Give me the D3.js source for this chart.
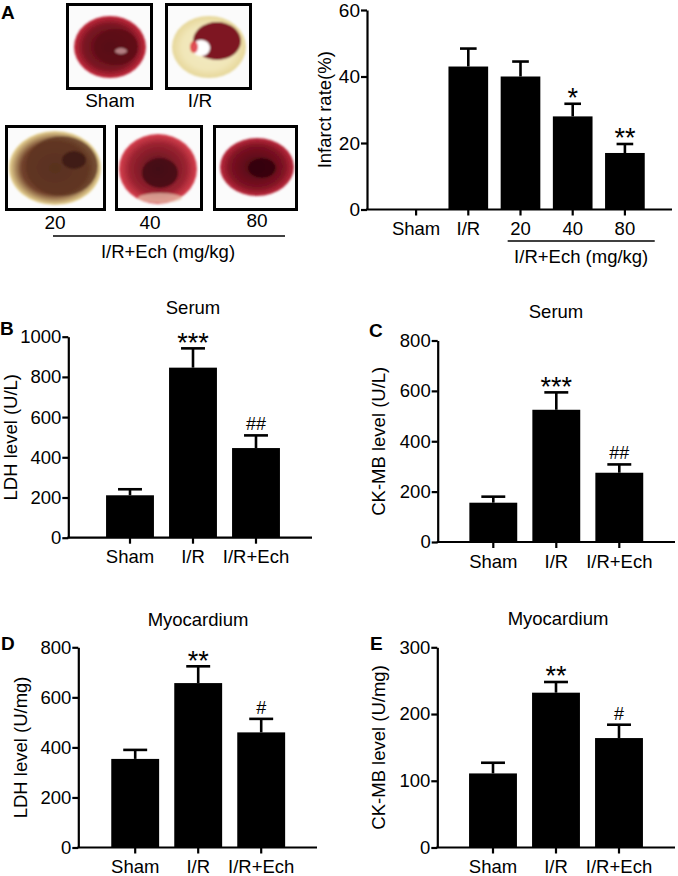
<!DOCTYPE html>
<html>
<head>
<meta charset="utf-8">
<script src="https://cdn.jsdelivr.net/npm/d3@7"></script>
<style>
	body { margin: 0; background: #fff; }
	svg text { font-family: 'Liberation Sans', Arial, sans-serif; fill: #000; }
</style>
</head>
<body>
<svg id="fig" width="678" height="876"></svg>
<script>
'use strict';

// panel A, infarct size
let infarctGroups = ['Sham', 'I/R', '20', '40', '80'];
let infarctMean = [0, 43, 40, 28, 17];
let infarctErr = [0, 5.4, 4.5, 3.8, 2.7];
let infarctSig = ['', '', '', '*', '**'];
let infarctTicks = [0, 20, 40, 60];

// panels B-E
let groups = ['Sham', 'I/R', 'I/R+Ech'];
let serumLdhMean = [211, 846, 446];
let serumLdhErr = [30, 96, 63];
let serumCkMean = [156, 525, 275];
let serumCkErr = [24, 69, 33];
let myoLdhMean = [354, 657, 460];
let myoLdhErr = [36, 67, 54];
let myoCkMean = [111, 232, 164];
let myoCkErr = [16, 16, 20];
let sigSerum = ['', '***', '##'];
let sigMyo = ['', '**', '#'];

// TTC photo captions
let photoLabels = ['Sham', 'I/R', '20', '40', '80'];

let svg = d3.select('#fig');
svg.append('rect').attr('width', 678).attr('height', 876).attr('fill', '#fff');

function BarPanel(options) {

	let defaults = {
		x0: 0,          // y axis position
		x1: 0,          // end of x axis line
		band: [0, 0],   // band range
		y: [0, 0],      // [bottom, top]
		max: 100,
		ticks: [],
		cats: [],
		mean: [],
		err: [],
		sig: [],
		yLabel: '',
		yLabelX: 0,
		title: '',
		titleX: 0,
		titleY: 0,
		letter: '',
		letterXY: [0, 0],
		fs: 18.5,
		tickFs: 18.5,
		starFs: 27,
		hashFs: 18,
		cap: 0.5
	};

	let opt = Object.assign(defaults, options);

	let g = svg.append('g');

	let x = d3.scaleBand()
		.domain(opt.cats)
		.range(opt.band)
		.paddingInner(0.24)
		.paddingOuter(0.12);

	let y = d3.scaleLinear()
		.domain([0, opt.max])
		.range(opt.y);

	let data = opt.cats.map((c, i) => ({c, m: opt.mean[i], e: opt.err[i], s: opt.sig[i]}));
	let mid = d => x(d.c) + x.bandwidth() / 2;

	// bars
	g.selectAll('rect.bar')
		.data(data.filter(d => d.m > 0))
		.enter().append('rect')
		.attr('class', 'bar')
		.attr('x', d => x(d.c))
		.attr('width', x.bandwidth())
		.attr('y', d => y(d.m))
		.attr('height', d => y(0) - y(d.m))
		.attr('fill', '#000');

	// error bars (upper only)
	let capW = x.bandwidth() * opt.cap;
	let eb = g.selectAll('g.err')
		.data(data.filter(d => d.e > 0))
		.enter().append('g')
		.attr('class', 'err')
		.attr('stroke', '#000')
		.attr('stroke-width', 2.6);

	eb.append('line')
		.attr('x1', mid)
		.attr('x2', mid)
		.attr('y1', d => y(d.m))
		.attr('y2', d => y(d.m + d.e));

	eb.append('line')
		.attr('x1', d => mid(d) - capW / 2)
		.attr('x2', d => mid(d) + capW / 2)
		.attr('y1', d => y(d.m + d.e))
		.attr('y2', d => y(d.m + d.e));

	// significance marks
	g.selectAll('text.sig')
		.data(data.filter(d => d.s))
		.enter().append('text')
		.attr('class', 'sig')
		.attr('text-anchor', 'middle')
		.attr('x', mid)
		.attr('y', d => d.s[0] === '*' ? y(d.m + d.e) + opt.starFs * 0.12 : y(d.m + d.e) - 5)
		.style('font-size', d => (d.s[0] === '*' ? opt.starFs : opt.hashFs) + 'px')
		.text(d => d.s);

	// y axis
	let yAxis = g.append('g')
		.attr('transform', `translate(${opt.x0},0)`)
		.call(d3.axisLeft(y)
			.tickValues(opt.ticks)
			.tickFormat(d3.format('d'))
			.tickSize(6).tickSizeOuter(0).tickPadding(1));

	yAxis.select('.domain').attr('stroke-width', 2.2);
	yAxis.selectAll('.tick line').attr('stroke-width', 2.2);
	yAxis.selectAll('.tick text')
		.style('font-size', opt.tickFs + 'px')
		.attr('fill', '#000');

	// x axis
	let xAxis = g.append('g')
		.attr('transform', `translate(0,${y(0)})`)
		.call(d3.axisBottom(x).tickSize(6).tickSizeOuter(0).tickPadding(6.5));

	xAxis.select('.domain').remove();
	xAxis.selectAll('.tick line').attr('stroke-width', 2.2);
	xAxis.selectAll('.tick text')
		.style('font-size', opt.fs + 'px')
		.attr('fill', '#000');

	g.append('line')
		.attr('x1', opt.x0 - 1)
		.attr('x2', opt.x1)
		.attr('y1', y(0))
		.attr('y2', y(0))
		.attr('stroke', '#000')
		.attr('stroke-width', 2.2);

	// y label
	g.append('text')
		.attr('transform', `translate(${opt.yLabelX},${(opt.y[0] + opt.y[1]) / 2}) rotate(-90)`)
		.attr('text-anchor', 'middle')
		.attr('dy', '0.35em')
		.style('font-size', opt.fs + 'px')
		.text(opt.yLabel);

	if (opt.title) {
		g.append('text')
			.attr('x', opt.titleX)
			.attr('y', opt.titleY)
			.attr('text-anchor', 'middle')
			.style('font-size', opt.fs + 'px')
			.text(opt.title);
	}

	if (opt.letter) {
		g.append('text')
			.attr('x', opt.letterXY[0])
			.attr('y', opt.letterXY[1])
			.style('font-size', '19px')
			.style('font-weight', 'bold')
			.text(opt.letter);
	}

	return {g, x, y};
}

// ---- panel A, right: infarct rate
let infarct = BarPanel({
	x0: 367, x1: 672,
	band: [390, 651],
	y: [209.5, 10],
	max: 60,
	ticks: infarctTicks,
	cats: infarctGroups,
	mean: infarctMean,
	err: infarctErr,
	sig: infarctSig,
	yLabel: 'Infarct rate(%)',
	yLabelX: 325,
	tickFs: 19,
	starFs: 27,
	cap: 0.42
});

// bracket under the dose groups
(function() {
	let x = infarct.x;
	let l = x('20') + 7;
	let r = x('80') + x.bandwidth() + 10;
	svg.append('line')
		.attr('x1', l).attr('x2', r)
		.attr('y1', 241).attr('y2', 241)
		.attr('stroke', '#000').attr('stroke-width', 1.6);
	svg.append('text')
		.attr('x', (l + r) / 2)
		.attr('y', 263)
		.attr('text-anchor', 'middle')
		.style('font-size', '18.5px')
		.text('I/R+Ech (mg/kg)');
}());

// ---- panel A, left: TTC stained slices (drawn, not photos)
let photoBoxes = [
	{x: 67.5, y: 4.5, w: 84, h: 84},
	{x: 166.5, y: 4.5, w: 84, h: 84},
	{x: 6.5, y: 126.5, w: 98, h: 83},
	{x: 116.5, y: 126.5, w: 85, h: 83},
	{x: 214.5, y: 126.5, w: 82, h: 83}
];

let slices = [
	{cx: 110, cy: 47, rx: 36, ry: 31, rim: '#c42a3c', body: '#7a1422', core: '#4e0a14'},
	{cx: 209, cy: 47, rx: 37, ry: 31, rim: '#e6d79a', body: '#f1e6b8', core: '#f3ebc4'},
	{cx: 55, cy: 168, rx: 46, ry: 37, rim: '#ead694', body: '#70402a', core: '#4a2418'},
	{cx: 158, cy: 169, rx: 39, ry: 35, rim: '#d8404e', body: '#9a2230', core: '#52101a'},
	{cx: 257, cy: 167, rx: 37, ry: 29, rim: '#bc2a3c', body: '#7c1222', core: '#480812'}
];

// darker / paler patches inside each slice
let patches = [
	{cx: 116, cy: 47, rx: 22, ry: 18, fill: '#5a0c16', op: 0.8},
	{cx: 121, cy: 51, rx: 6, ry: 3, fill: '#d8b0b0', op: 0.7},
	{cx: 217, cy: 41, rx: 24, ry: 19, fill: '#7e1424', op: 1},
	{cx: 201, cy: 48, rx: 9, ry: 8, fill: '#ffffff', op: 1},
	{cx: 194, cy: 47, rx: 4, ry: 6, fill: '#d8242c', op: 0.8},
	{cx: 62, cy: 166, rx: 36, ry: 30, fill: '#5e3422', op: 0.75},
	{cx: 74, cy: 160, rx: 12, ry: 9, fill: '#3a1810', op: 0.8},
	{cx: 160, cy: 173, rx: 18, ry: 15, fill: '#3f0710', op: 0.8},
	{cx: 160, cy: 198, rx: 22, ry: 5, fill: '#e8c8b0', op: 0.7},
	{cx: 262, cy: 168, rx: 14, ry: 10, fill: '#2e050b', op: 0.8}
];

let defs = svg.append('defs');
slices.forEach((s, i) => {
	let grad = defs.append('radialGradient').attr('id', `slice${i}`);
	grad.append('stop').attr('offset', '0%').attr('stop-color', s.core);
	grad.append('stop').attr('offset', '72%').attr('stop-color', s.body);
	grad.append('stop').attr('offset', '100%').attr('stop-color', s.rim);
});
defs.append('filter').attr('id', 'soft')
	.append('feGaussianBlur').attr('stdDeviation', 1.3);

let photo = svg.append('g');
photo.selectAll('rect.box')
	.data(photoBoxes)
	.enter().append('rect')
	.attr('class', 'box')
	.attr('x', d => d.x).attr('y', d => d.y)
	.attr('width', d => d.w).attr('height', d => d.h)
	.attr('fill', '#fbfbfb')
	.attr('stroke', '#000')
	.attr('stroke-width', 3);

let tissue = photo.append('g').attr('filter', 'url(#soft)');
tissue.selectAll('ellipse.slice')
	.data(slices)
	.enter().append('ellipse')
	.attr('class', 'slice')
	.attr('cx', d => d.cx).attr('cy', d => d.cy)
	.attr('rx', d => d.rx).attr('ry', d => d.ry)
	.attr('fill', (d, i) => `url(#slice${i})`);

tissue.selectAll('ellipse.patch')
	.data(patches)
	.enter().append('ellipse')
	.attr('class', 'patch')
	.attr('cx', d => d.cx).attr('cy', d => d.cy)
	.attr('rx', d => d.rx).attr('ry', d => d.ry)
	.attr('fill', d => d.fill)
	.attr('opacity', d => d.op);

let photoText = [
	{t: photoLabels[0], x: 110, y: 107},
	{t: photoLabels[1], x: 200, y: 107},
	{t: photoLabels[2], x: 55, y: 229},
	{t: photoLabels[3], x: 150, y: 229},
	{t: photoLabels[4], x: 257, y: 227}
];
photo.selectAll('text.cap')
	.data(photoText)
	.enter().append('text')
	.attr('class', 'cap')
	.attr('x', d => d.x).attr('y', d => d.y)
	.attr('text-anchor', 'middle')
	.style('font-size', '19px')
	.text(d => d.t);

photo.append('line')
	.attr('x1', 53).attr('x2', 285)
	.attr('y1', 236).attr('y2', 236)
	.attr('stroke', '#000').attr('stroke-width', 1.6);
photo.append('text')
	.attr('x', 168).attr('y', 258)
	.attr('text-anchor', 'middle')
	.style('font-size', '18.5px')
	.text('I/R+Ech (mg/kg)');

svg.append('text')
	.attr('x', 1).attr('y', 19)
	.style('font-size', '19px')
	.style('font-weight', 'bold')
	.text('A');

// ---- B: serum LDH
BarPanel({
	x0: 68.3, x1: 312,
	band: [98.5, 287.5],
	y: [537.7, 336.7],
	max: 1000,
	ticks: [0, 200, 400, 600, 800, 1000],
	cats: groups,
	mean: serumLdhMean,
	err: serumLdhErr,
	sig: sigSerum,
	yLabel: 'LDH level (U/L)',
	yLabelX: 11,
	title: 'Serum', titleX: 193, titleY: 314,
	letter: 'B', letterXY: [0, 335]
});

// ---- C: serum CK-MB
BarPanel({
	x0: 437.7, x1: 675,
	band: [461.8, 650.8],
	y: [542, 340.5],
	max: 800,
	ticks: [0, 200, 400, 600, 800],
	cats: groups,
	mean: serumCkMean,
	err: serumCkErr,
	sig: sigSerum,
	yLabel: 'CK-MB level (U/L)',
	yLabelX: 379,
	title: 'Serum', titleX: 556, titleY: 318,
	letter: 'C', letterXY: [369, 337]
});

// ---- D: myocardium LDH
BarPanel({
	x0: 78.3, x1: 317,
	band: [103.7, 292.7],
	y: [847.5, 647.3],
	max: 800,
	ticks: [0, 200, 400, 600, 800],
	cats: groups,
	mean: myoLdhMean,
	err: myoLdhErr,
	sig: sigMyo,
	yLabel: 'LDH level (U/mg)',
	yLabelX: 21,
	title: 'Myocardium', titleX: 198, titleY: 626,
	letter: 'D', letterXY: [1, 650]
});

// ---- E: myocardium CK-MB
BarPanel({
	x0: 437.3, x1: 675,
	band: [461.5, 650.5],
	y: [847.5, 647.3],
	max: 300,
	ticks: [0, 100, 200, 300],
	cats: groups,
	mean: myoCkMean,
	err: myoCkErr,
	sig: sigMyo,
	yLabel: 'CK-MB level (U/mg)',
	yLabelX: 379,
	title: 'Myocardium', titleX: 558, titleY: 625,
	letter: 'E', letterXY: [370, 650]
});
</script>
</body>
</html>
